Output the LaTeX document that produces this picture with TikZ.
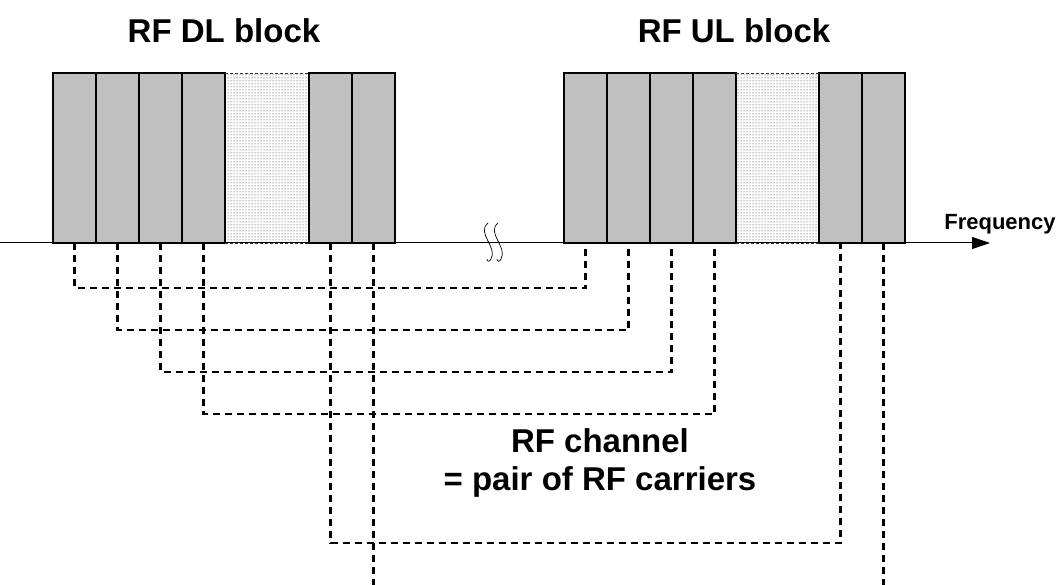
\documentclass[tikz,border=0pt]{standalone}
\usepackage{fontspec}
\setmainfont{Liberation Sans}
\usetikzlibrary{positioning,arrows.meta,patterns,backgrounds}

\definecolor{carriergray}{RGB}{192,192,192}
\def \carrierW {43pt}
\def \carrierH {170pt}
\def \gapW {84pt}

\begin{document}
\begin{tikzpicture}[x=1pt,y=-1pt,
    carrier/.style={draw,line width=2pt,fill=carriergray,minimum width=\carrierW,
      minimum height=\carrierH,inner sep=0pt,outer sep=0pt},
    gapfill/.style={pattern=dots,pattern color=black!85},
    gapedge/.style={black!80,line width=0.8pt,dash pattern=on 3pt off 2pt},
    pairline/.style={line width=2.2pt,dash pattern=on 7pt off 5pt},
    bigtext/.style={font=\bfseries\fontsize{33}{38}\selectfont,inner sep=0pt}]
  \useasboundingbox (0,0) rectangle (1061,585);

  % frequency axis
  \coordinate (axisstart) at (0,243);
  \coordinate (axisend) at (990,243);
  \draw[line width=1pt,-{Triangle[length=18pt,width=12pt]}] (axisstart) -- (axisend);
  \node[font=\bfseries\fontsize{22}{26}\selectfont,inner sep=0pt,anchor=base] (freq) at (1000,230) {Frequency};

  % break in the axis
  \draw[line width=0.7pt] (488,223) .. controls (476,233) and (498,247) .. (491,259)
    .. controls (490,262) and (487,262) .. (487,259);
  \draw[line width=0.7pt] (498,223) .. controls (486,233) and (508,247) .. (501,259)
    .. controls (500,262) and (497,262) .. (497,259);

  % DL block
  \node[bigtext,anchor=base] (dltitle) at (224,43) {RF DL block};
  \node[carrier] (dl1) at (74.5,158) {};
  \node[carrier,right=0pt of dl1] (dl2) {};
  \node[carrier,right=0pt of dl2] (dl3) {};
  \node[carrier,right=0pt of dl3] (dl4) {};
  \node[carrier,right=\gapW of dl4] (dl5) {};
  \node[carrier,right=0pt of dl5] (dl6) {};

  % UL block
  \node[bigtext,anchor=base] (ultitle) at (734,43) {RF UL block};
  \node[carrier] (ul1) at (585.5,158) {};
  \node[carrier,right=0pt of ul1] (ul2) {};
  \node[carrier,right=0pt of ul2] (ul3) {};
  \node[carrier,right=0pt of ul3] (ul4) {};
  \node[carrier,right=83pt of ul4] (ul5) {};
  \node[carrier,right=0pt of ul5] (ul6) {};

  % unused part of each block
  \begin{scope}[on background layer]
    \fill[gapfill] (dl4.north east) rectangle (dl5.south west);
    \fill[gapfill] (ul4.north east) rectangle (ul5.south west);
  \end{scope}
  \draw[gapedge] (dl4.north east) -- (dl5.north west);
  \draw[gapedge] (dl4.south east) -- (dl5.south west);
  \draw[gapedge] (ul4.north east) -- (ul5.north west);
  \draw[gapedge] (ul4.south east) -- (ul5.south west);

  % DL/UL carrier pairs
  \draw[pairline] (dl1.south) -- (dl1.south |- 0,288) -| (ul1.south);
  \draw[pairline] (dl2.south) -- (dl2.south |- 0,330) -| (ul2.south);
  \draw[pairline] (dl3.south) -- (dl3.south |- 0,372) -| (ul3.south);
  \draw[pairline] (dl4.south) -- (dl4.south |- 0,414) -| (ul4.south);
  \draw[pairline] (dl5.south) -- (dl5.south |- 0,543) -| (ul5.south);
  \coordinate (dl6end) at (dl6.south |- 0,585);
  \coordinate (ul6end) at (ul6.south |- 0,585);
  \draw[pairline] (dl6.south) -- (dl6end);
  \draw[pairline] (ul6.south) -- (ul6end);

  \node[bigtext,align=center] (chlabel) at (600,463) {RF channel\\= pair of RF carriers};
\end{tikzpicture}
\end{document}
